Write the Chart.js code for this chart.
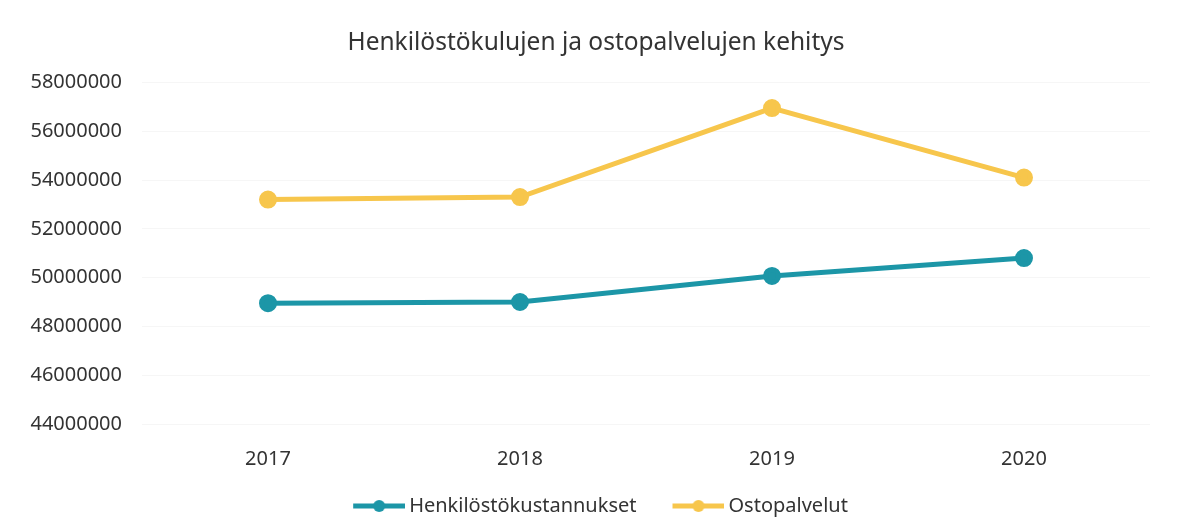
<!DOCTYPE html>
<html>
<head>
<meta charset="utf-8">
<script src="https://cdn.jsdelivr.net/npm/chart.js@4/dist/chart.umd.min.js"></script>
<style>
  html, body { margin: 0; padding: 0; background: #fff; }
  #wrap { width: 1178px; height: 517px; }
</style>
</head>
<body>
<div id="wrap"><canvas id="kaavio" width="1178" height="517"></canvas></div>
<script>
// Data luettu kuvasta
const vuodet = ['2017', '2018', '2019', '2020'];
const henkilostokustannukset = [48950000, 49000000, 50070000, 50800000];
const ostopalvelut = [53200000, 53300000, 56950000, 54100000];
const yAkseliTicks = [44000000, 46000000, 48000000, 50000000, 52000000, 54000000, 56000000, 58000000];

const sarjaNimet = ['Henkilöstökustannukset', 'Ostopalvelut'];
const varit = ['#1c96a7', '#f7c64c'];

const fontti = "'Noto Sans', 'Open Sans', sans-serif";

// legendan merkki: viiva + pallo
const merkkiLeveys = 55;
function legendaKuva(vari) {
    const c = document.createElement('canvas');
    c.width = merkkiLeveys + 12;
    c.height = 14;
    const g = c.getContext('2d');
    g.strokeStyle = vari;
    g.lineWidth = 5;
    g.beginPath();
    g.moveTo(c.width - 52, 7);
    g.lineTo(c.width, 7);
    g.stroke();
    g.fillStyle = vari;
    g.beginPath();
    g.arc(c.width - 26, 7, 6, 0, Math.PI * 2);
    g.fill();
    return c;
}

const ctx = document.getElementById('kaavio').getContext('2d');
new Chart(ctx, {
    type: 'line',
    data: {
        labels: vuodet,
        datasets: [
            {
                label: sarjaNimet[0],
                data: henkilostokustannukset,
                borderColor: varit[0],
                backgroundColor: varit[0],
                borderWidth: 5,
                pointRadius: 6.5,
                pointHoverRadius: 6.5,
                tension: 0
            },
            {
                label: sarjaNimet[1],
                data: ostopalvelut,
                borderColor: varit[1],
                backgroundColor: varit[1],
                borderWidth: 5,
                pointRadius: 6.5,
                pointHoverRadius: 6.5,
                tension: 0
            }
        ]
    },
    options: {
        responsive: false,
        animation: false,
        layout: { padding: { left: 14, right: 0, top: 0, bottom: -9 } },
        plugins: {
            title: {
                display: true,
                text: 'Henkilöstökulujen ja ostopalvelujen kehitys',
                color: '#333',
                font: { family: fontti, size: 24.5, weight: 'normal' },
                padding: { top: 28, bottom: 25 }
            },
            legend: {
                position: 'bottom',
                labels: {
                    usePointStyle: true,
                    pointStyleWidth: merkkiLeveys,
                    padding: 27,
                    color: '#333',
                    font: { family: fontti, size: 20 },
                    generateLabels: function (chart) {
                        return chart.data.datasets.map((ds, i) => ({
                            text: ds.label,
                            fillStyle: ds.borderColor,
                            strokeStyle: ds.borderColor,
                            pointStyle: legendaKuva(ds.borderColor),
                            lineWidth: 0,
                            hidden: false,
                            datasetIndex: i,
                            fontColor: '#333'
                        }));
                    }
                }
            },
            tooltip: { enabled: false }
        },
        scales: {
            x: {
                offset: true,
                afterFit: function (scale) { scale.height = 45; },
                grid: { display: false, drawTicks: false },
                border: { display: false },
                ticks: {
                    color: '#333',
                    padding: 25,
                    font: { family: fontti, size: 20, lineHeight: 1 }
                }
            },
            y: {
                min: yAkseliTicks[0],
                max: yAkseliTicks[yAkseliTicks.length - 1],
                afterFit: function (scale) { scale.width = 128; },
                afterBuildTicks: function (scale) {
                    scale.ticks = yAkseliTicks.map(v => ({ value: v }));
                },
                grid: { color: '#f6f6f6', drawTicks: false },
                border: { display: false },
                ticks: {
                    color: '#333',
                    padding: 20,
                    font: { family: fontti, size: 20 },
                    callback: v => String(v)
                }
            },
            // tyhjä akseli oikealle, pitää piirtoalueen oikean reunan paikallaan
            oikea: {
                type: 'linear',
                position: 'right',
                afterFit: function (scale) { scale.width = 28; },
                grid: { display: false },
                border: { display: false },
                ticks: { display: false }
            }
        }
    }
});
</script>
</body>
</html>
